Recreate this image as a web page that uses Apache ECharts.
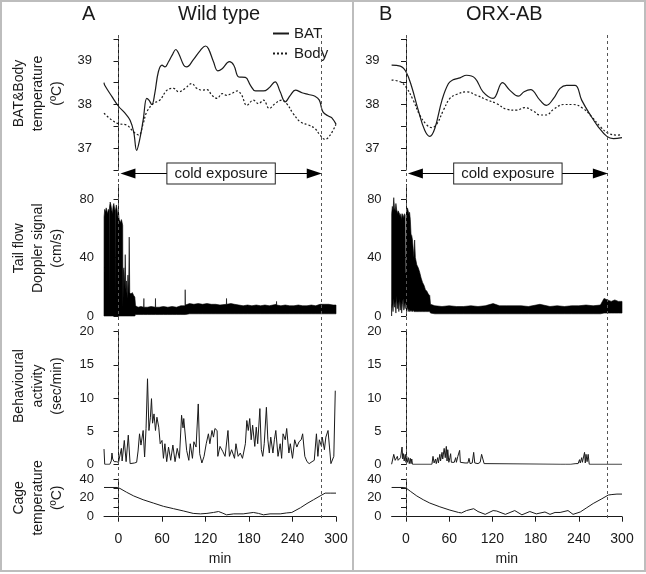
<!DOCTYPE html>
<html>
<head>
<meta charset="utf-8">
<title>BAT temperature, tail flow, activity and cage temperature</title>
<script src="https://cdn.jsdelivr.net/npm/echarts@6/dist/echarts.min.js"></script>
<style>
    html, body { margin: 0; padding: 0; background: #fff; }
    #main { width: 646px; height: 574px; }
</style>
</head>
<body>
<div id="main"></div>
<script>
// x 轴刻度 (min)
var xTicks = [0, 60, 120, 180, 240, 300];
var coldStart = 0, coldEnd = 280;

// A: Wild type -- BAT / Body temperature (ºC)
var batA = [[-20,38.5],[-19,38.44],[-9,38.18],[0,37.96],[9,37.8],[16,37.64],[21,37.37],[25,36.95],[29,37.18],[34,37.64],[39,38.14],[42,38.1],[46,38.0],[50,38.25],[55,38.75],[60,38.9],[64,38.86],[69,38.98],[74,39.13],[79,39.26],[83,39.17],[90,38.9],[94,38.86],[103,39.02],[113,39.24],[120,39.34],[124,39.28],[131,38.98],[137,38.77],[143,38.82],[153,38.98],[159,38.9],[166,38.63],[175,38.62],[182,38.44],[189,38.31],[200,38.31],[207,38.37],[216,38.52],[223,38.29],[230,38.06],[237,38.21],[244,38.33],[253,38.27],[262,38.23],[271,38.19],[277,38.1],[282,37.83],[290,37.73],[294,37.7],[300,37.55]];
var bodyA = [[-20,37.8],[-9,37.64],[0,37.56],[11,37.53],[21,37.37],[28,37.3],[34,37.56],[39,37.83],[48,38.02],[57,38.1],[67,38.33],[76,38.37],[83,38.29],[92,38.37],[101,38.48],[108,38.37],[115,38.33],[122,38.34],[129,38.21],[136,38.14],[143,38.25],[149,38.21],[156,38.25],[164,38.31],[170,38.21],[177,37.98],[186,38.1],[193,38.02],[200,38.1],[208,37.91],[216,38.02],[225,38.1],[232,38.02],[241,37.79],[251,37.6],[262,37.53],[271,37.45],[278,37.3],[285,37.2],[292,37.3],[300,37.55]];

// B: ORX-AB -- BAT / Body temperature (ºC)
var batB = [[-20,38.9],[-8,38.88],[0,38.75],[8,38.4],[17,37.87],[26,37.41],[33,37.27],[40,37.45],[50,38.1],[59,38.48],[66,38.57],[75,38.61],[84,38.67],[96,38.6],[107,38.29],[121,38.14],[134,38.5],[144,38.33],[156,38.19],[164,38.29],[173,38.34],[186,38.1],[195,37.98],[205,38.14],[214,38.37],[223,38.44],[235,38.44],[244,38.1],[256,37.76],[267,37.49],[279,37.27],[288,37.22],[300,37.24]];
var bodyB = [[-20,38.56],[-8,38.52],[0,38.4],[10,38.1],[19,37.76],[29,37.53],[36,37.47],[43,37.56],[52,37.87],[61,38.14],[70,38.23],[84,38.29],[98,38.21],[112,38.11],[126,38.02],[140,37.89],[154,37.87],[165,37.93],[177,37.85],[186,37.76],[195,37.76],[205,37.89],[219,38.0],[232,38.0],[246,37.91],[258,37.72],[270,37.49],[281,37.34],[293,37.3],[300,37.31]];

// Tail flow Doppler signal (cm/s): [min, 下沿, 上沿]
var dopA = [[-20,0,0],[-19.9,0,68],[-19,0,73],[-18,0,71],[-17,0,74],[-16,0,72],[-15,0,70],[-14,0,73],[-13.1,0,72],[-12.8,0,12],[-12.5,0,74],[-11.5,0,78],[-10.5,0,76],[-9.5,0,73],[-8.5,0,70],[-7.5,0,75],[-6.5,0,77],[-5.5,0,74],[-4.8,0,72],[-4.5,0,14],[-4.2,0,72],[-3,0,76],[-2,0,73],[-1,0,68],[0,0,71],[1,0,66],[2,0,65],[3,0,64],[4,0,66],[5,0,64],[5.8,0,62],[6.1,0,6],[6.6,0,30],[7.5,0,33],[8.5,0,20],[9.3,0,42],[10,0,18],[11,0,24],[12,0,12],[13,0,28],[14,0,16],[14.8,0,54],[15.5,0,16],[17,0,15],[19,0,16],[21,0,14],[22.5,0,13],[23.5,1,7],[27,1,6],[31,1,6.5],[34.8,1,6],[35,1,12],[35.2,1,6],[40,1,6],[45,1,6.5],[50.8,1,6],[51,1,12],[51.2,1,6],[56,1,6],[62,1,6.5],[68,1,6],[74,1,6.5],[80,1,6],[86,1,7],[91.8,1,7],[92,1,18],[92.2,1,7.5],[98,1.5,8.5],[104,1.5,8],[110,1.5,8.5],[116,1.5,8],[122,1.5,8.5],[128,1.5,8],[134,1.5,8],[140,1.5,7.5],[148.8,1.5,8],[149,1.5,12],[149.2,1.5,8],[155,1.5,8.5],[160,1.5,8],[166,1.5,7.5],[172,1.5,7],[178,1.5,7.5],[184,1.5,7],[190,1.5,7.5],[196,1.5,7],[202,1.5,7.5],[208,1.5,7],[213,1.5,7.5],[217.8,1.5,8],[218,1.5,10],[218.2,1.5,7.5],[224,1.5,7],[230,1.5,7.5],[236,1.5,7],[242,1.5,7],[248,1.5,7.5],[254,1.5,7],[260,1.5,7],[266,1.5,7.5],[272,1.5,7],[278,1.5,8],[284,1.5,8],[290,1.5,8],[296,1.5,7.5],[300,1.5,7.5]];
var dopB = [[-20,0,0],[-19.9,5,70],[-19,8,75],[-18,3,72],[-17,12,81],[-16,6,74],[-15,10,72],[-14,2,77],[-13,14,73],[-12,5,70],[-11,10,72],[-10,3,71],[-9,12,70],[-8,4,68],[-7,10,70],[-6,2,66],[-5,8,70],[-4,12,69],[-3,4,67],[-2,9,70],[-1.2,5,69],[-0.8,8,30],[0.4,10,29],[0.8,4,72],[2,6,74],[3,3,72],[4,5,70],[5,3,71],[6,4,66],[7,3,56],[8,4,55],[9,3,52],[10,4,46],[11,3,40],[12,3,52],[13,3,40],[15,3,35],[17,3,33],[19,3,30],[21,3,26],[23,3,23],[25,3,21],[27,3,18],[29,3,17],[31,3,15],[33,3,14],[34,2,8],[40,1.5,7],[50,1.5,6.5],[60,1.5,7],[70,1.5,6.5],[80,1.5,6.5],[90,1.5,7],[100,1.5,6.5],[110,1.5,7],[121,1.5,8.5],[130,1.5,7],[140,1.5,7],[150,1.5,7],[160,1.5,7],[170,1.5,6.5],[186,1.5,8],[200,1.5,6.5],[210,1.5,7],[220,1.5,6.5],[230,1.5,7],[240,1.5,7],[250,1.5,7.5],[260,1.5,7],[270,1.5,7.5],[275,2,12],[280,2,11],[285,2,10],[290,2,11],[295,2,10],[300,2,10]];

// Behavioural activity (sec/min)
var actA = [[-20,2.3],[-19,0],[-17,0],[-12,0],[-10,0.5],[-9,1.7],[-8,0.8],[-6,0.4],[-3,0.4],[0,0.3],[2,0.5],[4,2.4],[5,0.5],[8,3.6],[10.5,0.4],[13.5,4.4],[16,0.1],[18,0.3],[22,0.2],[25,0.3],[27,2.0],[29,4.6],[31,2.9],[34,5.1],[36,1.1],[38,5.4],[40,12.9],[42,5.1],[44,7.1],[45.5,9.9],[47,6.2],[49,7.6],[51,5.1],[53,7.1],[55.5,5.6],[57.5,3.1],[60,3.6],[62,0.9],[64,3.1],[66.5,0.4],[69,2.6],[72,0.6],[75,2.9],[78,0.4],[81,2.4],[84,0.9],[87,7.4],[89,5.5],[90,6.9],[92,6.6],[94,2.1],[97,0.6],[99,3.1],[102,0.9],[104,3.4],[107,2.6],[110,9.1],[112,1.6],[115,0.2],[118,1.2],[121,3.1],[124,4.6],[126,3.1],[129,5.1],[131,4.1],[133,5.4],[136,5.1],[137,1.2],[140,2.7],[144,1.9],[147,1.2],[151,5.1],[153,1.2],[156,2.2],[160,0.9],[162,3.1],[165,1.2],[168,1.7],[171,0.9],[175,3.1],[177,6.6],[179,5.1],[181,6.9],[183,3.7],[185,5.9],[188,2.7],[190,5.6],[192,3.1],[195,8.4],[197,2.2],[199,1.2],[201,3.1],[204,8.6],[206,3.7],[208,1.7],[210,4.1],[213,1.7],[215,3.7],[217,5.1],[220,1.2],[223,3.1],[225,0.9],[227,4.6],[230,3.7],[232,5.4],[235,1.7],[237,3.1],[240,0.9],[243,3.7],[246,2.6],[249,3.4],[252,3.7],[254,4.6],[257,1.2],[260,0.4],[263,0.1],[267,0.4],[270,0.6],[273,4.6],[275,1.2],[277,3.7],[280,2.7],[281,4.1],[284,2.2],[286,4.1],[289,5.1],[291,2.6],[293,0.1],[295,0],[297,1.2],[299,11.1]];
var actB = [[-20,0],[-18,0.2],[-17,1.5],[-15,0.6],[-14,0.4],[-12,1.2],[-11,0.6],[-9,0.3],[-7.5,1.0],[-5.5,2.6],[-4.5,0.8],[-3.5,1.6],[-2.5,0.5],[-1,1.5],[0,0.3],[1,1.2],[2,0.3],[3.5,1.0],[4.5,0.1],[6,0.9],[7,0.1],[8,0.8],[9,0],[36,0],[37.5,1.2],[39,0.2],[41,0.8],[42,0.1],[44,1.0],[45,0.2],[47,1.5],[48,0.5],[50,1.8],[51,0.8],[53,2.4],[54.5,1.0],[56,2.7],[57,0.5],[58,2.2],[59.5,0.3],[61,1.0],[62,1.6],[63,0.3],[65,0.2],[67,0.3],[69,1.0],[70,0.3],[72,1.2],[74.5,2.1],[75.5,0.3],[78,0.2],[82,0.2],[86,0.2],[87.5,0.9],[89,0.1],[92,0.2],[94,1.8],[95.5,0.2],[100,0.1],[103,0.3],[105,1.5],[107,1.2],[108.5,0.1],[110,0],[214,0],[215,0.3],[216,0],[222,0],[223,0.3],[224,0],[229,0],[230,0.3],[231,0],[236,0.1],[238,0.4],[239,0.1],[241,0.7],[242,0.2],[244,1.0],[245,0.3],[246,0.6],[248,1.8],[249,0.2],[250,1.5],[251.5,0.4],[253,1.5],[254.5,0],[300,0]];

// Cage temperature (ºC)
var cageA = [[-20,31],[-2,31],[2,30],[11,26],[21,22],[34,18],[48,14.5],[62,11],[76,8.5],[90,6],[103,3.5],[113,3],[122,3.5],[131,4.5],[138,5.5],[143,4],[149,2],[159,3],[172,3],[186,4.5],[193,3.5],[200,2],[209,3],[223,3],[232,4],[239,4.5],[241,5],[251,9.5],[260,14],[269,18],[278,22],[285,25],[292,25],[300,25]];
var cageB = [[-20,31],[-4,31],[0,30.5],[6,27],[15,22],[24,18],[33,14.5],[47,10.5],[61,7],[73,4.5],[77,4],[84,6.5],[94,8.5],[100,5.5],[110,2.5],[121,6.5],[126,6],[138,2.5],[151,6.5],[161,2],[172,5.5],[181,3],[193,5],[200,2.5],[207,4.5],[214,4.5],[225,6.5],[232,2.5],[242,5],[251,9.5],[260,14],[272,19],[281,23],[286,23.5],[293,24],[300,24]];

var FONT = 'Liberation Sans, Arial, Helvetica, sans-serif';
var INK = '#1a1a1a';

var myChart = echarts.init(document.getElementById('main'));

// 多普勒信号: 上沿和下沿之间画成一个多边形
function bandRenderer(rows) {
    return function (params, api) {
        var pts = [];
        rows.forEach(function (r) { pts.push(api.coord([r[0], r[2]])); });
        for (var i = rows.length - 1; i >= 0; i--) {
            pts.push(api.coord([rows[i][0], rows[i][1]]));
        }
        return {
            type: 'polygon',
            shape: {points: pts},
            style: {fill: '#000', stroke: '#000', lineWidth: 0.6}
        };
    };
}

// 每列四个面板 + 一个叠加层(虚线和箭头)
var panels = [
    {top: 39, height: 131, min: 36.5, max: 39.5, ticks: [36.5, 37, 37.5, 38, 38.5, 39, 39.5], labels: [37, 38, 39], name: 'BAT&Body\ntemperature\n(ºC)', shift: 22, margin: 12},
    {top: 184.5, height: 131.5, min: 0, max: 90, ticks: [0, 40, 80], labels: [0, 40, 80], name: 'Tail flow\nDoppler signal\n(cm/s)', shift: 4, margin: 10},
    {top: 331.7, height: 132.6, min: 0, max: 20, ticks: [0, 5, 10, 15, 20], labels: [0, 5, 10, 15, 20], name: 'Behavioural\nactivity\n(sec/min)', shift: 24, margin: 10},
    {top: 479, height: 37.7, min: 0, max: 40, ticks: [0, 10, 20, 30, 40], labels: [0, 20, 40], name: 'Cage\ntemperature\n(ºC)', shift: 0, margin: 10}
];
var columns = [
    {left: 104, width: 232, names: true, bat: batA, body: bodyA, dop: dopA, act: actA, cage: cageA},
    {left: 391.6, width: 230.4, names: false, bat: batB, body: bodyB, dop: dopB, act: actB, cage: cageB}
];

var grid = [], xAxis = [], yAxis = [], series = [];

columns.forEach(function (col, ci) {
    var base = ci * 5;
    panels.forEach(function (p, pi) {
        grid.push({left: col.left, width: col.width, top: p.top, height: p.height});
        var isCage = pi === 3;
        xAxis.push({
            type: 'value', gridIndex: base + pi, min: -20, max: 300,
            show: isCage,
            offset: isCage ? 3 : 0,
            splitLine: {show: false},
            axisLine: {lineStyle: {color: INK, width: 1}},
            axisTick: {customValues: xTicks, length: 5, lineStyle: {color: INK}},
            axisLabel: {customValues: xTicks, margin: 12, fontSize: 14, color: INK, fontFamily: FONT},
            name: 'min', nameLocation: 'middle', nameGap: 32,
            nameTextStyle: {fontSize: 14, color: INK, fontFamily: FONT}
        });
        yAxis.push({
            type: 'value', gridIndex: base + pi, min: p.min, max: p.max,
            splitLine: {show: false},
            axisLine: {show: true, lineStyle: {color: INK, width: 1}},
            axisTick: {show: true, customValues: p.ticks, length: 5, lineStyle: {color: INK}},
            axisLabel: {customValues: p.labels, margin: p.margin, fontSize: 13, color: INK, fontFamily: FONT},
            name: col.names ? p.name : '', nameLocation: 'middle', nameRotate: 90, nameGap: 37,
            nameTextStyle: {fontSize: 14, lineHeight: 19, color: INK, fontFamily: FONT, padding: [0, 0, 0, p.shift]}
        });
    });
    // 叠加层: y 轴按像素排列, 只用于标注
    grid.push({left: col.left, width: col.width, top: 35, height: 485});
    xAxis.push({type: 'value', gridIndex: base + 4, min: -20, max: 300, show: false});
    yAxis.push({type: 'value', gridIndex: base + 4, min: 35, max: 520, inverse: true, show: false});

    // 温度
    series.push({
        name: 'BAT', type: 'line', xAxisIndex: base, yAxisIndex: base,
        data: col.bat, smooth: 0.4, symbol: 'none', color: INK,
        lineStyle: {color: INK, width: 1.2}
    });
    series.push({
        name: 'Body', type: 'line', xAxisIndex: base, yAxisIndex: base,
        data: col.body, smooth: 0.4, symbol: 'none', color: INK,
        lineStyle: {color: INK, width: 1.2, type: [2, 2]}
    });
    // 多普勒信号
    series.push({
        type: 'custom', xAxisIndex: base + 1, yAxisIndex: base + 1,
        data: [[col.dop[0][0], 0]],
        renderItem: bandRenderer(col.dop), silent: true
    });
    // 行为活动
    series.push({
        type: 'line', xAxisIndex: base + 2, yAxisIndex: base + 2,
        data: col.act, symbol: 'none', lineStyle: {color: INK, width: 1}
    });
    // 笼温
    series.push({
        type: 'line', xAxisIndex: base + 3, yAxisIndex: base + 3,
        data: col.cage, symbol: 'none', lineStyle: {color: INK, width: 1}
    });
    // 冷暴露起止虚线
    series.push({
        type: 'line', xAxisIndex: base + 4, yAxisIndex: base + 4, data: [],
        markLine: {
            silent: true, symbol: 'none', animation: false,
            label: {show: false},
            lineStyle: {color: '#555', width: 1, type: [3, 3]},
            data: [{xAxis: coldStart}, {xAxis: coldEnd}]
        }
    });
    // 箭头 + "cold exposure"
    series.push({
        type: 'line', xAxisIndex: base + 4, yAxisIndex: base + 4, data: [],
        markLine: {
            silent: true, animation: false,
            symbol: ['path://M5 0 L10 15 L0 15 Z', 'path://M5 0 L10 15 L0 15 Z'],
            symbolSize: 15, symbolKeepAspect: true,
            lineStyle: {color: '#000', width: 1.2, type: 'solid'},
            label: {
                show: true, position: 'insideMiddle', formatter: 'cold exposure',
                fontSize: 15, color: INK, fontFamily: FONT,
                backgroundColor: '#fff', borderColor: '#222', borderWidth: 1,
                padding: [3, 7, 2, 7]
            },
            data: [[{coord: [coldStart + 13, 173.5]}, {coord: [coldEnd - 10, 173.5]}]]
        }
    });
});

myChart.setOption({
    animation: false,
    backgroundColor: '#fff',
    textStyle: {fontFamily: FONT},
    title: [
        {text: 'A', left: 82, top: 4, padding: 0, textStyle: {fontSize: 20, fontWeight: 'normal', color: INK, fontFamily: FONT}},
        {text: 'Wild type', left: 178, top: 4, padding: 0, textStyle: {fontSize: 20, fontWeight: 'normal', color: INK, fontFamily: FONT}},
        {text: 'B', left: 379, top: 4, padding: 0, textStyle: {fontSize: 20, fontWeight: 'normal', color: INK, fontFamily: FONT}},
        {text: 'ORX-AB', left: 466, top: 4, padding: 0, textStyle: {fontSize: 20, fontWeight: 'normal', color: INK, fontFamily: FONT}}
    ],
    legend: {
        data: ['BAT', 'Body'], orient: 'vertical', left: 272, top: 26, padding: 0,
        itemWidth: 16, itemHeight: 14, itemGap: 5, selectedMode: false,
        itemStyle: {opacity: 0},
        textStyle: {fontSize: 15, color: INK, fontFamily: FONT}
    },
    graphic: [
        {type: 'rect', shape: {x: 1, y: 1, width: 644, height: 570}, style: {fill: 'none', stroke: '#bdbdbd', lineWidth: 2}, silent: true},
        {type: 'line', shape: {x1: 353, y1: 1, x2: 353, y2: 571}, style: {stroke: '#bdbdbd', lineWidth: 2}, silent: true}
    ],
    grid: grid,
    xAxis: xAxis,
    yAxis: yAxis,
    series: series
});
</script>
</body>
</html>
